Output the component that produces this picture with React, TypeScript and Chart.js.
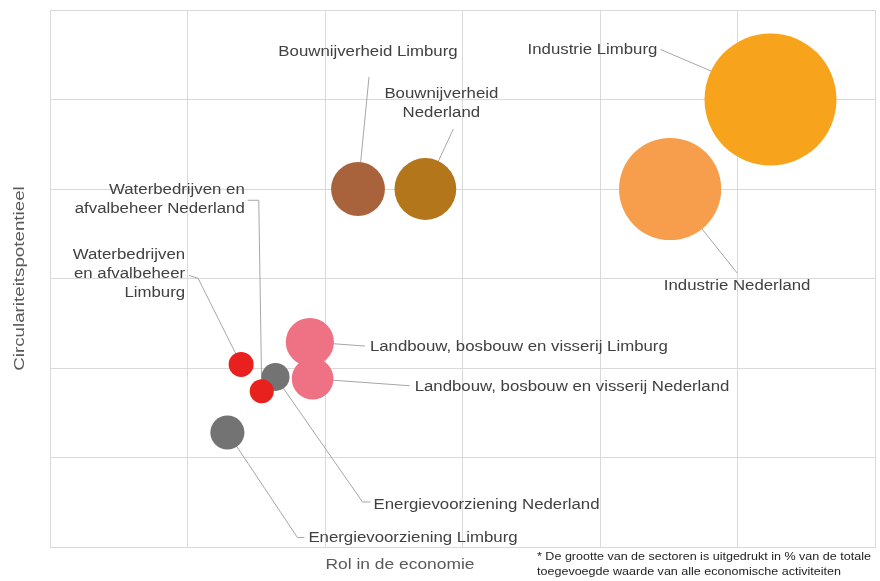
import React, { useEffect, useRef } from "react";
import { Chart, registerables } from "chart.js";
Chart.register(...registerables);

// ---- data ----
const sectors = [
  "Industrie Limburg",
  "Industrie Nederland",
  "Bouwnijverheid Limburg",
  "Bouwnijverheid Nederland",
  "Landbouw, bosbouw en visserij Nederland",
  "Landbouw, bosbouw en visserij Limburg",
  "Energievoorziening Limburg",
  "Energievoorziening Nederland",
  "Waterbedrijven en afvalbeheer Limburg",
  "Waterbedrijven en afvalbeheer Nederland",
];
const roleInEconomy = [5.24, 4.51, 2.24, 2.73, 1.91, 1.89, 1.29, 1.64, 1.39, 1.54];
const circularityPotential = [5.0, 4.0, 4.0, 4.0, 1.88, 2.29, 1.28, 1.9, 2.04, 1.74];
const shareOfValueAdded = [21.0, 12.6, 3.5, 4.6, 2.1, 2.8, 1.4, 0.95, 0.75, 0.7];
const bubbleColors = [
  "#F7A31C",
  "#F79E4C",
  "#A8633C",
  "#B3761A",
  "#EF7284",
  "#EF7284",
  "#737373",
  "#737373",
  "#E8201E",
  "#E8201E",
];

// ---- label layout (offsets in px from bubble centre) ----
type LabelSpec = {
  lines: string[];
  dx: number;
  dy: number;
  align: CanvasTextAlign;
  leader: [number, number][];
};
const labelSpecs: LabelSpec[] = [
  { lines: ["Industrie Limburg"], dx: -178, dy: -49, align: "center", leader: [[-110, -50], [-63, -30], [0, 0]] },
  { lines: ["Industrie Nederland"], dx: 67, dy: 97, align: "center", leader: [[67, 84], [0, 0]] },
  { lines: ["Bouwnijverheid Limburg"], dx: 10, dy: -137, align: "center", leader: [[11, -112], [0, 0]] },
  { lines: ["Bouwnijverheid", "Nederland"], dx: 16, dy: -95, align: "center", leader: [[28, -60], [0, 0]] },
  { lines: ["Landbouw, bosbouw en visserij Nederland"], dx: 102, dy: 8, align: "left", leader: [[97, 7], [0, 0]] },
  { lines: ["Landbouw, bosbouw en visserij Limburg"], dx: 60, dy: 5, align: "left", leader: [[55, 4], [0, 0]] },
  { lines: ["Energievoorziening Limburg"], dx: 81, dy: 106, align: "left", leader: [[77, 105], [70, 105], [0, 0]] },
  { lines: ["Energievoorziening Nederland"], dx: 98, dy: 128, align: "left", leader: [[95, 125], [87, 125], [0, 0]] },
  { lines: ["Waterbedrijven", "en afvalbeheer", "Limburg"], dx: -56, dy: -109, align: "right", leader: [[-52, -89], [-43, -86], [0, 0]] },
  { lines: ["Waterbedrijven en", "afvalbeheer Nederland"], dx: -17, dy: -201, align: "right", leader: [[-14, -191], [-3, -191], [0, 0]] },
];

const xTitle = "Rol in de economie";
const yTitle = "Circulariteitspotentieel";
const footnote = [
  "* De grootte van de sectoren is uitgedrukt in % van de totale",
  "toegevoegde waarde van alle economische activiteiten",
];

const LABEL_FONT = '14px "Liberation Sans", Arial, sans-serif';
const LINE_HEIGHT = 19;
const STRETCH = 1.2;

function stretchedText(ctx: CanvasRenderingContext2D, text: string, x: number, y: number, sx: number) {
  ctx.save();
  ctx.translate(x, y);
  ctx.scale(sx, 1);
  ctx.fillText(text, 0, 0);
  ctx.restore();
}

const annotationPlugin = {
  id: "bubbleAnnotations",
  beforeDatasetsDraw(chart: any) {
    const ctx = chart.ctx;
    const meta = chart.getDatasetMeta(0);
    ctx.save();
    ctx.strokeStyle = "#A6A6A6";
    ctx.lineWidth = 1;
    meta.data.forEach((el: any, i: number) => {
      const spec = labelSpecs[i];
      if (!spec) return;
      ctx.beginPath();
      spec.leader.forEach(([dx, dy], k) => {
        const px = el.x + dx;
        const py = el.y + dy;
        if (k === 0) ctx.moveTo(px, py);
        else ctx.lineTo(px, py);
      });
      ctx.stroke();
    });
    ctx.restore();
  },
  afterDatasetsDraw(chart: any) {
    const ctx = chart.ctx;
    const meta = chart.getDatasetMeta(0);
    const area = chart.chartArea;
    ctx.save();
    ctx.font = LABEL_FONT;
    ctx.fillStyle = "#404040";
    ctx.textBaseline = "middle";
    meta.data.forEach((el: any, i: number) => {
      const spec = labelSpecs[i];
      if (!spec) return;
      ctx.textAlign = spec.align;
      spec.lines.forEach((line, k) => {
        stretchedText(ctx, line, el.x + spec.dx, el.y + spec.dy + k * LINE_HEIGHT, STRETCH);
      });
    });
    // axis titles
    ctx.font = '15px "Liberation Sans", Arial, sans-serif';
    ctx.fillStyle = "#595959";
    ctx.textAlign = "center";
    stretchedText(ctx, xTitle, 400, area.bottom + 18, 1.16);
    ctx.save();
    ctx.translate(20, (area.top + area.bottom) / 2);
    ctx.rotate(-Math.PI / 2);
    stretchedText(ctx, yTitle, 0, 0, 1.25);
    ctx.restore();
    // footnote
    ctx.font = '11px "Liberation Sans", Arial, sans-serif';
    ctx.fillStyle = "#222222";
    ctx.textAlign = "left";
    footnote.forEach((line, k) => stretchedText(ctx, line, 537, area.bottom + 10 + k * 15, 1.14));
    ctx.restore();
  },
};

export default function App() {
  const canvasRef = useRef<HTMLCanvasElement | null>(null);
  useEffect(() => {
    document.body.style.margin = "0";
    const canvas = canvasRef.current;
    if (!canvas) return;
    const points = roleInEconomy.map((x, i) => ({
      x,
      y: circularityPotential[i],
      r: 14.4 * Math.sqrt(shareOfValueAdded[i]),
    }));
    const chart = new Chart(canvas, {
      type: "bubble",
      data: {
        labels: sectors,
        datasets: [
          {
            data: points,
            backgroundColor: bubbleColors,
            borderWidth: 0,
            hoverBorderWidth: 0,
            clip: false,
          } as any,
        ],
      },
      options: {
        animation: false,
        responsive: false,
        maintainAspectRatio: false,
        layout: { autoPadding: false, padding: { left: 50, top: 10, right: 5, bottom: 34 } },
        plugins: { legend: { display: false }, tooltip: { enabled: false } },
        scales: {
          x: {
            type: "linear",
            min: 0,
            max: 6,
            ticks: { display: false, stepSize: 1 },
            grid: { color: "#D9D9D9", lineWidth: 1, drawTicks: false },
            border: { display: true, color: "#D9D9D9" },
          },
          y: {
            type: "linear",
            min: 0,
            max: 6,
            ticks: { display: false, stepSize: 1 },
            grid: { color: "#D9D9D9", lineWidth: 1, drawTicks: false },
            border: { display: true, color: "#D9D9D9" },
          },
        },
      } as any,
      plugins: [annotationPlugin],
    });
    return () => chart.destroy();
  }, []);
  return (
    <div style={{ width: 880, height: 581, background: "#FFFFFF" }}>
      <canvas ref={canvasRef} width={880} height={581} style={{ display: "block" }} />
    </div>
  );
}
